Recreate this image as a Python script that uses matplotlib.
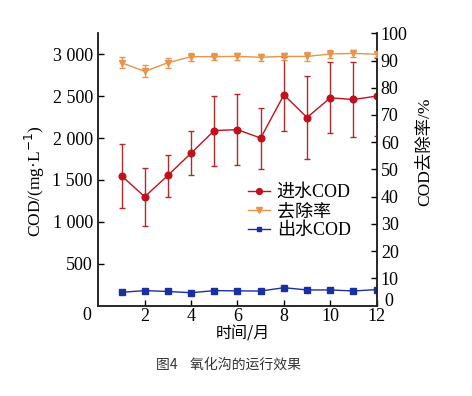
import matplotlib
matplotlib.use("Agg")
import matplotlib.pyplot as plt
from matplotlib.lines import Line2D
import numpy as np

months = [1, 2, 3, 4, 5, 6, 7, 8, 9, 10, 11, 12]
inflow = [1550, 1300, 1555, 1820, 2090, 2100, 2000, 2515, 2245, 2480, 2460, 2500]
inflow_hi = [1930, 1640, 1800, 2090, 2500, 2520, 2355, 2970, 2745, 2910, 2910, 2960]
inflow_lo = [1170, 950, 1300, 1555, 1670, 1680, 1625, 2080, 1755, 2065, 2015, 2030]
removal = [89.2, 86.0, 89.2, 91.4, 91.4, 91.5, 91.2, 91.5, 91.5, 92.4, 92.6, 92.3]
removal_err = [2.0, 2.2, 1.8, 1.5, 1.3, 1.3, 1.3, 1.4, 1.5, 1.3, 1.2, 1.0]
outflow = [160, 180, 170, 155, 180, 177, 175, 215, 188, 188, 176, 192]
outflow_err = [8, 8, 8, 8, 8, 8, 8, 25, 15, 8, 8, 8]

left_ticks = [500, 1000, 1500, 2000, 2500, 3000]
left_labels = ["500", "1 000", "1 500", "2 000", "2 500", "3 000"]
right_ticks = [10, 20, 30, 40, 50, 60, 70, 80, 90, 100]
x_ticks = [2, 4, 6, 8, 10, 12]
series_names = ["进水COD", "去除率", "出水COD"]

SERIF = ["Liberation Serif", "Noto Sans CJK SC"]
CJK = ["Noto Sans CJK SC", "Liberation Serif"]
plt.rcParams["font.family"] = SERIF

red = "#C0111C"
red_err = "#B22A2A"
orange = "#E8944A"
blue = "#1A2FA0"

fig = plt.figure(figsize=(4.72, 3.96), dpi=100)
ax = fig.add_axes([0.2083, 0.228, 0.5897, 0.688])
ax2 = ax.twinx()

ylo = np.array(inflow) - np.array(inflow_lo)
yhi = np.array(inflow_hi) - np.array(inflow)
ax.errorbar(months, inflow, yerr=[ylo, yhi], color=red, ecolor=red_err,
            marker="o", ms=4.8, lw=1.0, elinewidth=1.0, capsize=2.5, capthick=1.0,
            zorder=3)
ax.errorbar(months, outflow, yerr=outflow_err, color=blue, ecolor=blue,
            marker="s", ms=3.8, lw=1.0, elinewidth=1.0, capsize=2, capthick=1.0,
            zorder=3)
ax2.errorbar(months, removal, yerr=removal_err, color=orange, ecolor=orange,
             marker="v", ms=4.8, lw=1.0, elinewidth=1.0, capsize=2.5, capthick=1.0,
             zorder=3)

ax.set_xlim(0, 12)
ax.set_ylim(0, 3250)
ax2.set_ylim(0, 100)
ax.set_xticks(x_ticks)
ax.set_xticklabels([str(v) for v in x_ticks])
ax.set_yticks(left_ticks)
ax.set_yticklabels(left_labels)
ax2.set_yticks(right_ticks)
ax2.set_yticklabels([str(v) for v in right_ticks])

for a in (ax, ax2):
    a.spines["top"].set_visible(False)
    for s in a.spines.values():
        s.set_linewidth(1.1)
        s.set_color("#222222")
ax.tick_params(axis="both", direction="in", length=4, width=1, labelsize=13, pad=4)
ax.tick_params(axis="x", pad=2)
ax2.tick_params(axis="y", direction="in", length=4, width=1, labelsize=13, pad=3)

# shared zero labels
fig.text(87 / 472, 1 - 316 / 396, "0", fontsize=13, ha="center", va="center")
fig.text(389 / 472, 1 - 302 / 396, "0", fontsize=13, ha="center", va="center")

fig.text(35 / 472, 1 - 181 / 396, "COD/(mg·L$^{-1}$)", fontsize=12.5, rotation=90,
         ha="center", va="center", family=SERIF)
fig.text(425 / 472, 1 - 152 / 396, "COD去除率/%", fontsize=12.5, rotation=90,
         ha="center", va="center", family=SERIF)
fig.text(243 / 472, 1 - 334 / 396, "时间/月", fontsize=11.5, ha="center", va="center",
         family=CJK)
fig.text(229 / 472, 1 - 365 / 396, "图4    氧化沟的运行效果", fontsize=10, ha="center",
         va="center", family=CJK, color="#333333")

handles = [
    Line2D([], [], color=red, marker="o", ms=4.2, lw=1.0),
    Line2D([], [], color=orange, marker="v", ms=4.2, lw=1.0),
    Line2D([], [], color=blue, marker="s", ms=3.5, lw=1.0),
]
leg = ax.legend(handles, series_names,
                loc="center left", bbox_to_anchor=(0.505, 0.345), frameon=False,
                fontsize=13, handlelength=1.2, handletextpad=0.4,
                labelspacing=0.12, borderpad=0.0)
for t in leg.get_texts():
    t.set_family(SERIF)

fig.savefig("out.png", dpi=100)
